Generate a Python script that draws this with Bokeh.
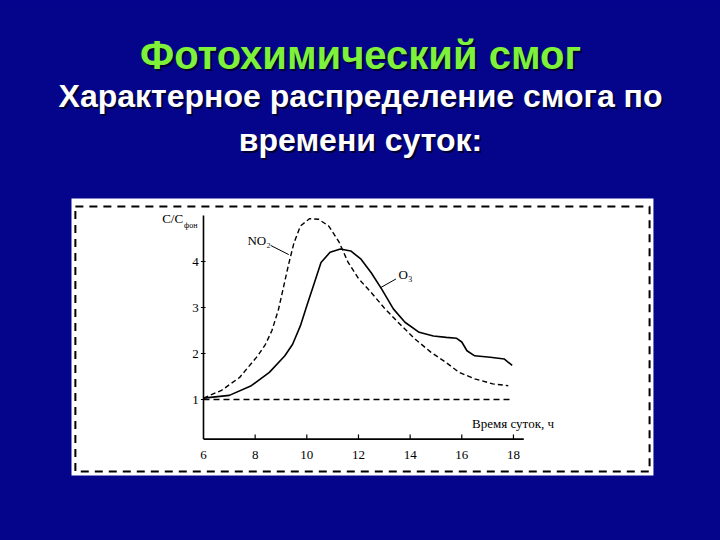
from bokeh.plotting import figure
from bokeh.models import Label, BoxAnnotation, Range1d
from bokeh.embed import file_html
from bokeh.resources import INLINE

# ---- data ----
title_text = "Фотохимический смог"
subtitle_lines = ["Характерное распределение смога по", "времени суток:"]

no2_hours = [6.0, 6.7, 7.4, 8.1, 8.4, 8.65, 8.9, 9.1, 9.3, 9.5, 9.75, 10.1, 10.45, 10.85,
             11.25, 11.6, 12.0, 12.5, 13.0, 13.6, 14.2, 14.8, 15.4, 15.9, 16.5, 17.2, 17.8]
no2_ratio = [1.03, 1.2, 1.48, 1.95, 2.2, 2.5, 2.95, 3.45, 3.95, 4.4, 4.77, 4.93, 4.92, 4.77,
             4.42, 3.98, 3.63, 3.32, 2.99, 2.64, 2.31, 2.03, 1.80, 1.59, 1.45, 1.34, 1.30]

o3_hours = [6.0, 7.0, 7.85, 8.55, 9.15, 9.45, 9.75, 10.0, 10.3, 10.55, 10.9, 11.3, 11.7,
            12.1, 12.5, 12.9, 13.35, 13.8, 14.35, 14.9, 15.4, 15.8, 16.0, 16.2, 16.5,
            17.1, 17.65, 17.95]
o3_ratio = [1.03, 1.09, 1.30, 1.59, 1.95, 2.2, 2.6, 3.04, 3.55, 3.98, 4.20, 4.27, 4.23,
            4.05, 3.75, 3.40, 2.97, 2.68, 2.46, 2.38, 2.35, 2.33, 2.25, 2.06, 1.95,
            1.92, 1.88, 1.74]

base_hours = [6.0, 18.0]
base_ratio = [1.0, 1.0]

x_ticks = [6, 8, 10, 12, 14, 16, 18]
y_ticks = [1, 2, 3, 4]
x_axis_level = 0.14
y_axis_top = 5.0
x_axis_end = 18.4

BG = "#05058c"

p = figure(width=720, height=540, output_backend="svg", toolbar_location=None,
           x_axis_type=None, y_axis_type=None,
           x_range=Range1d(-1.859, 26.016), y_range=Range1d(-2.065, 9.674),
           min_border=0)
p.background_fill_color = BG
p.border_fill_color = BG
p.outline_line_color = None
p.grid.visible = False

# white scanned-figure panel and its dashed frame
p.add_layout(BoxAnnotation(left=0.89, right=23.42, bottom=-0.652, top=5.37,
                           fill_color="white", fill_alpha=1, line_alpha=0,
                           level="underlay"))
p.add_layout(BoxAnnotation(left=1.04, right=23.27, bottom=-0.565, top=5.196,
                           fill_alpha=0, line_color="black", line_alpha=1, line_width=2,
                           line_dash="8 6", level="underlay"))

# axes (drawn as in the scanned figure)
p.line([6, 6], [x_axis_level, y_axis_top], line_color="black", line_width=1.6)
p.line([6, x_axis_end], [x_axis_level, x_axis_level], line_color="black", line_width=1.8)
p.segment(x0=x_ticks[1:], y0=[x_axis_level] * (len(x_ticks) - 1),
          x1=x_ticks[1:], y1=[x_axis_level + 0.1] * (len(x_ticks) - 1),
          line_color="black", line_width=1.2)
p.segment(x0=[5.9] * len(y_ticks), y0=y_ticks, x1=[6.08] * len(y_ticks), y1=y_ticks,
          line_color="black", line_width=1.2)
p.text(x=x_ticks, y=[-0.2] * len(x_ticks), text=[str(t) for t in x_ticks],
       text_align="center", text_baseline="middle", text_font_size="13px",
       text_font="Liberation Serif", text_color="black")
p.text(x=[5.82] * len(y_ticks), y=y_ticks, text=[str(t) for t in y_ticks],
       text_align="right", text_baseline="middle", text_font_size="13px",
       text_font="Liberation Serif", text_color="black")

# curves
p.line(base_hours, base_ratio, line_color="black", line_width=1.5, line_dash="6 4")
p.line(no2_hours, no2_ratio, line_color="black", line_width=1.4, line_dash="5 3")
p.line(o3_hours, o3_ratio, line_color="black", line_width=1.6)

# leader lines
p.line([8.6, 9.3], [4.35, 4.15], line_color="black", line_width=1)
p.line([13.45, 12.85], [3.62, 3.43], line_color="black", line_width=1)

def lab(x, y, text, size, **kw):
    p.add_layout(Label(x=x, y=y, text=text, text_font_size=size,
                       text_font="Liberation Serif", text_color="black", **kw))

lab(4.4, 4.93, "C/C", "13px", text_baseline="middle")
lab(5.25, 4.78, "фон", "8px", text_baseline="middle")
lab(7.7, 4.45, "NO₂", "13px", text_baseline="middle")
lab(13.55, 3.72, "O₃", "13px", text_baseline="middle")
lab(16.4, 0.47, "Время суток, ч", "13px", text_baseline="middle")

# slide titles
def slide_text(y, text, size, color):
    p.add_layout(Label(x=12.08, y=y, text=text, text_font_size=size, text_align="center",
                       text_baseline="alphabetic", text_font="Liberation Sans",
                       text_font_style="bold", text_color="#000033",
                       x_offset=2, y_offset=-2))
    p.add_layout(Label(x=12.08, y=y, text=text, text_font_size=size, text_align="center",
                       text_baseline="alphabetic", text_font="Liberation Sans",
                       text_font_style="bold", text_color=color))

slide_text(8.48, title_text, "40px", "#7ef23a")
slide_text(7.59, subtitle_lines[0], "32px", "white")
slide_text(6.65, subtitle_lines[1], "32px", "white")

html = file_html(p, INLINE)
html = html.replace("<head>", "<head><style>html,body{background:%s;margin:0;padding:0;overflow:hidden;}</style>" % BG, 1)
open("out.html", "w").write(html)
